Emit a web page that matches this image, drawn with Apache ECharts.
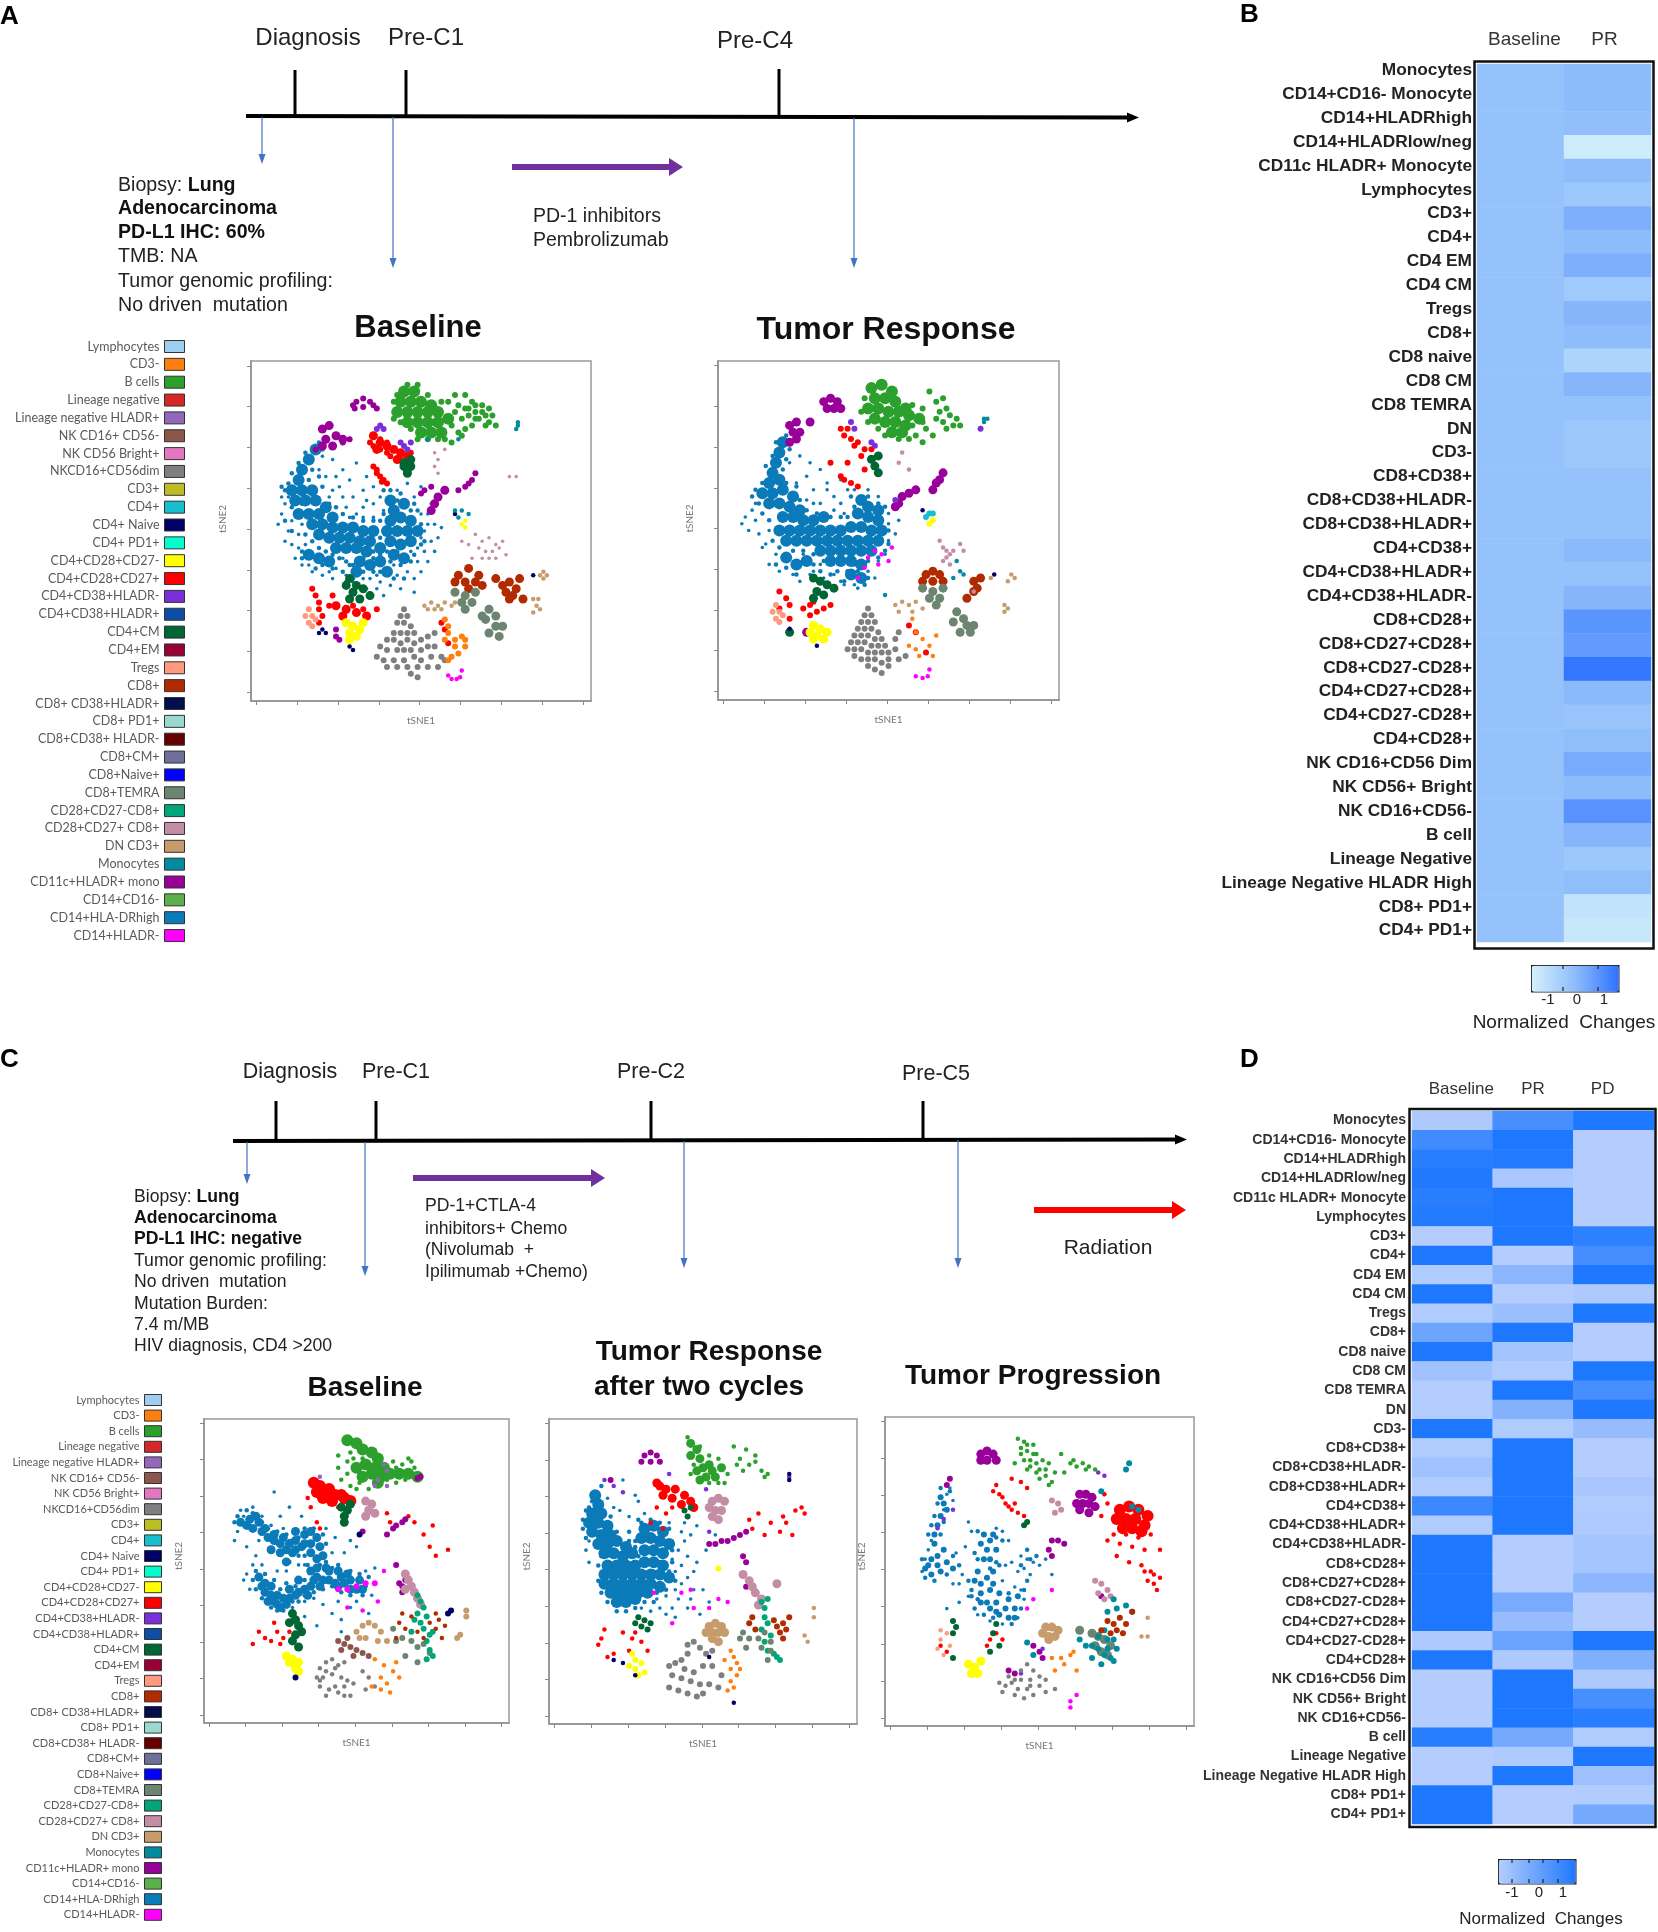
<!DOCTYPE html>
<html>
<head>
<meta charset="utf-8">
<title>tSNE and heatmaps</title>
<style>
  html, body { margin: 0; padding: 0; background: #fff; }
  #main { width: 1658px; height: 1932px; }
</style>
<script src="https://cdn.jsdelivr.net/npm/echarts@6/dist/echarts.min.js"></script>
</head>
<body>
<div id="main"></div>
<script>
// legend populations
const popNames = ['Lymphocytes', 'CD3-', 'B cells', 'Lineage negative', 'Lineage negative HLADR+', 'NK CD16+ CD56-', 'NK CD56 Bright+', 'NKCD16+CD56dim', 'CD3+', 'CD4+', 'CD4+ Naive', 'CD4+ PD1+', 'CD4+CD28+CD27-', 'CD4+CD28+CD27+', 'CD4+CD38+HLADR-', 'CD4+CD38+HLADR+', 'CD4+CM', 'CD4+EM', 'Tregs', 'CD8+', 'CD8+ CD38+HLADR+', 'CD8+ PD1+', 'CD8+CD38+ HLADR-', 'CD8+CM+', 'CD8+Naive+', 'CD8+TEMRA', 'CD28+CD27-CD8+', 'CD28+CD27+ CD8+', 'DN CD3+', 'Monocytes', 'CD11c+HLADR+ mono', 'CD14+CD16-', 'CD14+HLA-DRhigh', 'CD14+HLADR-'];
const popColors = ['#9fcdf0', '#ff7f0e', '#2ca02c', '#d62728', '#9467bd', '#8c564b', '#e377c2', '#7f7f7f', '#bcbd22', '#17becf', '#000066', '#00ffcc', '#ffff00', '#ff0000', '#7b2fd8', '#0d4ea6', '#006633', '#990033', '#ff9980', '#b22a00', '#000e4d', '#99d9d0', '#660000', '#6f6f99', '#0000ff', '#6b8571', '#00a67a', '#c48da6', '#c69c6d', '#008b9e', '#990099', '#5cb04c', '#0a7ab8', '#ff00ff'];

// heatmap rows
const rowsB = ['Monocytes', 'CD14+CD16- Monocyte', 'CD14+HLADRhigh', 'CD14+HLADRlow/neg', 'CD11c HLADR+ Monocyte', 'Lymphocytes', 'CD3+', 'CD4+', 'CD4 EM', 'CD4 CM', 'Tregs', 'CD8+', 'CD8 naive', 'CD8 CM', 'CD8 TEMRA', 'DN', 'CD3-', 'CD8+CD38+', 'CD8+CD38+HLADR-', 'CD8+CD38+HLADR+', 'CD4+CD38+', 'CD4+CD38+HLADR+', 'CD4+CD38+HLADR-', 'CD8+CD28+', 'CD8+CD27+CD28+', 'CD8+CD27-CD28+', 'CD4+CD27+CD28+', 'CD4+CD27-CD28+', 'CD4+CD28+', 'NK CD16+CD56 Dim', 'NK CD56+ Bright', 'NK CD16+CD56-', 'B cell', 'Lineage Negative', 'Lineage Negative HLADR High', 'CD8+ PD1+', 'CD4+ PD1+'];
const colsB = ['Baseline', 'PR'];
const colsD = ['Baseline', 'PR', 'PD'];
const baselineB = [-0.6, -0.6, -0.6, -0.6, -0.6, -0.6, -0.6, -0.6, -0.6, -0.6, -0.6, -0.6, -0.6, -0.6, -0.6, -0.6, -0.6, -0.6, -0.6, -0.6, -0.6, -0.6, -0.6, -0.6, -0.6, -0.6, -0.6, -0.6, -0.6, -0.6, -0.6, -0.6, -0.6, -0.6, -0.6, -0.6, -0.6];
const prB = [-0.3, -0.3, -0.45, -2.5, -0.35, -0.85, 0.1, -0.3, 0.1, -0.95, -0.1, -0.35, -1.4, -0.1, -0.6, -0.8, -0.8, -0.6, -0.6, -0.6, -0.25, -0.6, -0.1, 1.0, 0.8, 2.0, -0.25, -0.65, -0.4, 0.25, -0.3, 1.05, -0.1, -0.85, -0.4, -2.1, -2.3];
const baselineD = [-0.9, 0.55, 0.85, 0.97, 0.85, 0.95, -1, 1, -0.95, 1, -0.95, -0.05, 1, -0.75, -1, -1, 1, -0.95, -0.75, -0.95, 0.6, -0.95, 1, 1, 1, 1, 1, -0.9, 1, -1, -1, -1, 0.85, -1, -1, 1, 1];
const prD = [0.45, 1, 0.95, -0.88, 1, 1, 1, -1, -0.45, -1, -0.65, 1, -0.78, -0.95, 1, -0.35, -0.95, 1, 1, 1, 1, 1, -1, -1, -1, -0.2, -0.6, 0, -0.9, 1, 1, 1, -0.15, -0.92, 1, -1, -1];
const pdD = [1, -1, -1, -1, -1, -1, 0.8, 0.5, 1, -0.9, 1, -1, -1, 1, 0.45, 1, -0.6, -1, -1, -0.85, -0.95, -0.92, -0.8, -0.8, -0.45, -1, -1, 1, -0.3, -0.9, 0.45, 0.85, -0.95, 1, -0.7, -0.97, -0.15];

// tSNE ticks, all plots share them
const xTicks = [1.6, 13.6, 25.6, 37.6, 49.6, 61.6, 73.6, 85.6, 97.6];
const yTicks = [2.6, 14.6, 26.6, 38.6, 50.6, 62.6, 74.6, 86.6, 98.6];

// ---- panel A baseline
const a1BlueCore = [[19,74],[17,71],[15,68],[14,65],[12,62],[15,62],[18,62],[13,59],[16,59],[19,59],[22,57],[14,55],[17,55],[20,55],[24,54],[18,52],[21,52],[24,51],[27,51],[30,51],[33,50],[36,50],[20,49],[23,48],[26,48],[29,48],[32,47],[35,47],[25,45],[28,45],[31,45],[34,44],[38,45],[41,47],[44,46],[47,47],[40,50],[43,50],[46,50],[49,50],[41,53],[44,54],[47,53],[42,56],[45,58],[41,59],[17,43],[20,42],[23,41],[32,41],[35,40],[31,38],[38,41],[42,43],[45,42],[40,38]];
const a1BlueFringe = [[20,76],[21,74],[16,73],[14,70],[18,68],[20,66],[12,67],[11,64],[10,62],[9,63],[17,65],[21,63],[23,58],[25,57],[27,55],[30,54],[33,53],[36,53],[38,53],[39,55],[38,48],[36,44],[38,43],[41,41],[44,40],[47,41],[48,43],[50,46],[51,47],[50,52],[49,56],[47,56],[48,58],[43,59],[39,62],[44,61],[41,62],[15,58],[12,57],[10,53],[12,50],[16,49],[18,47],[20,45],[22,44],[24,43],[26,42],[28,41],[30,40],[15,44],[18,43],[21,40],[24,39],[27,38],[29,40],[33,38],[36,38],[38,38],[33,42],[36,42],[40,44],[43,44],[19,39],[15,42],[30,36],[28,35],[42,36],[45,36]];
const a1Blue = [[24,71],[27,68],[29,65],[25,66],[31,70],[33,62],[36,63],[30,60],[27,60],[24,62],[36,58],[33,57],[38,60],[48,60],[50,63],[46,64],[52,52],[50,48],[53,47],[51,44],[49,41],[46,38],[43,37],[41,34],[38,35],[35,36],[48,36],[50,38],[54,44],[10,58],[9,55],[8,52],[11,50],[10,47],[12,46],[14,49],[15,40],[18,38],[21,37],[25,39],[28,37],[33,36],[37,33],[44,33],[52,55],[55,48],[22,66],[20,68],[34,66],[40,64],[43,62],[21,72],[15,52],[12,53],[27,42],[29,54],[33,54],[36,54],[23,38],[16,46],[52,41],[56,51],[47,44],[39,31],[48,32],[26,63],[28,57],[31,55],[34,59],[39,56],[23,60],[11,60],[9,60],[14,45],[13,42],[17,40],[24,36],[30,35],[34,33],[42,40],[49,45],[51,50],[54,52],[53,58],[50,55],[37,37]];
const a1GreenCore = [[45,91],[48,91],[44,88],[47,88],[50,88],[53,87],[43,85],[46,85],[49,85],[52,85],[55,85],[46,82],[49,82],[52,82],[55,82],[58,83],[50,79],[53,79],[56,79]];
const a1Green = [[60,85],[62,83],[64,84],[66,85],[65,88],[68,87],[67,83],[69,84],[70,82],[72,81],[71,84],[63,80],[61,79],[65,81],[58,88],[60,90],[63,90],[57,77],[59,76],[62,78],[66,87],[69,81],[68,85],[64,86],[56,88],[61,87],[42,88],[43,90],[46,93],[49,93],[52,90],[59,81],[55,77],[52,77],[49,77],[47,80],[44,82],[42,83],[63,86],[66,83],[70,86]];
const a1MonoBig = [[21,80],[23,81],[22,77],[25,78],[21,75],[24,75],[27,77],[57,62],[55,60],[54,58],[53,56]];
const a1Mono = [[30,87],[31,88],[33,89],[35,88],[36,87],[37,86],[30.5,86],[33,86.5],[19,74],[27,76],[29,77],[66,67],[65,65],[64,64],[63,63],[61,62],[53,63],[51,62],[50,61],[25,21],[25,19],[26,18]];
const a1Violet = [[38,81],[39,80],[37,80],[45,75],[46,74],[47,76],[44,76]];
const a1RedBig = [[36,78],[38,76],[37,74],[40,75],[42,74],[44,73],[43,71],[46,72],[25,28],[28,27],[31,26],[34,25],[27,25]];
const a1Red = [[36,78],[38,77],[36,75],[38,74],[40,76],[42,74],[44,73],[41,72],[44,71],[46,71],[47,73],[35,76],[40,73],[36,69],[37,67],[38,66],[39,65],[40,64],[37,68],[38.5,64.5],[18,33],[19,31],[20,29],[20,27],[21,25],[20,23],[23,28],[37,27],[56,23],[57,21],[58,17],[24,31],[30,28],[33,27]];
const a1Cm = [[45,70],[47,71],[46,68],[45,69],[47,69],[46,67],[29,36],[28,34],[31,34],[30,32],[33,33],[35,31],[29,30],[32,30]];
const a1Yellow = [[28,23],[30,22],[32,21],[29,20],[31,19],[29,18],[33,23]];
const a1Yellow2 = [[63,53],[62,52],[63,51]];
const a1Tregs = [[17,27],[16,25],[18,25],[17,23],[18,22],[19,24]];
const a1Navy = [[21,21],[22,20],[20,20],[29,16],[30,15],[60,55],[83,37]];
const a1Teal = [[78.5,82],[78,80],[78.5,81],[60,56],[62,56],[64,55],[61,54],[52,77],[61,77]];
const a1Cd8 = [[61,37],[64,39],[67,37],[60,35],[63,35],[66,35],[68,34],[64,33],[74,34],[76,35],[78,33],[75,32],[77,31],[76,30],[72,36],[80,30],[79,36]];
const a1Temra = [[60,32],[63,31],[66,32],[62,29],[65,29],[63,27],[70,27],[72,25],[69,24],[72,22],[74,22],[70,20],[73,19],[68,25]];
const a1Pink = [[66,49],[68,47],[70,48],[72,46],[67,45],[69,44],[71,44],[73,45],[68,42],[70,42],[72,42],[74,47],[65,42],[75,43],[62,47],[64,46]];
const a1Dn = [[51,28],[53,29],[55,28],[57,29],[59,28],[60,29],[52,27],[54,27],[56,27],[83,30],[84,28],[85,27],[83,26],[84.5,30],[86,38],[86,36],[85,37],[87,37]];
const a1Gray = [[45,27],[44,25],[46,25],[43,23],[45,23],[47,22],[42,20],[44,20],[46,20],[48,20],[40,18],[42,18],[44,17],[46,18],[48,17],[50,18],[52,19],[54,20],[38,16],[40,15],[43,15],[45,15],[47,15],[50,15],[52,16],[54,16],[37,13],[39,12],[42,12],[45,12],[48,13],[50,12],[53,13],[56,13],[40,10],[43,10],[46,10],[49,10],[52,10],[55,10],[47,8],[49,7],[57,12]];
const a1Orange = [[57,24],[58,22],[58,20],[60,18],[62,19],[63,16],[60,16],[61,14],[59,13],[58,12],[63,18],[57,18]];
const a1Magenta = [[62,9],[61.5,7],[60.5,6.5],[59,6.5],[58,7.5]];
const a1PinkTop = [[54,73],[55,71],[54,69],[55,67],[57,74],[76,66],[78,66]];
const a1PanelData = [
  ['CD14+HLA-DRhigh', a1Blue, 'dot'], ['CD14+HLA-DRhigh', a1BlueFringe, 'small'], ['CD14+HLA-DRhigh', a1BlueCore, 'core'], ['B cells', a1Green, 'mid'], ['B cells', a1GreenCore, 'core'],
  ['CD11c+HLADR+ mono', a1Mono, 'mid'], ['CD11c+HLADR+ mono', a1MonoBig, 'blob'], ['CD4+CD28+CD27+', a1Red, 'mid'], ['CD4+CD28+CD27+', a1RedBig, 'blob'], ['CD4+CD38+HLADR-', a1Violet, 'mid'], ['CD4+CM', a1Cm, 'blob'], ['CD4+CD28+CD27-', a1Yellow, 'blob'], ['CD4+CD28+CD27-', a1Yellow2, 'small'],
  ['Tregs', a1Tregs, 'mid'], ['CD4+ Naive', a1Navy, 'small'], ['Monocytes', a1Teal, 'small'], ['CD8+', a1Cd8, 'blob'], ['CD8+TEMRA', a1Temra, 'blob'],
  ['CD28+CD27+ CD8+', a1Pink, 'dot'], ['CD28+CD27+ CD8+', a1PinkTop, 'dot'], ['DN CD3+', a1Dn, 'small'], ['NKCD16+CD56dim', a1Gray, 'mid'], ['CD3-', a1Orange, 'mid'], ['CD14+HLADR-', a1Magenta, 'small']
];

// ---- panel A tumor response
const a2BlueCore = [[19,76],[18,73],[17,70],[16,67],[15,64],[18,65],[13,61],[16,61],[19,62],[22,60],[15,58],[18,58],[21,57],[24,56],[19,54],[22,54],[25,53],[28,53],[31,54],[42,59],[44,57],[47,56],[41,55],[44,54],[47,53],[18,50],[21,50],[24,50],[27,50],[30,50],[33,50],[36,50],[39,51],[42,51],[45,50],[48,50],[20,47],[23,47],[26,47],[29,47],[32,47],[35,47],[38,47],[41,47],[44,47],[47,47],[30,44],[33,44],[36,44],[39,44],[42,44],[45,44],[33,41],[36,41],[39,41],[42,40],[20,42],[23,40],[26,41],[39,37],[42,36]];
const a2BlueFringe = [[20,78],[17,76],[21,74],[16,72],[20,71],[14,69],[19,68],[13,64],[11,62],[10,60],[20,64],[23,63],[24,59],[26,56],[29,55],[33,54],[36,54],[38,54],[40,57],[39,60],[44,60],[47,58],[49,57],[50,50],[50,46],[49,44],[47,42],[44,41],[41,38],[38,38],[35,38],[31,41],[28,43],[25,44],[22,44],[18,45],[16,47],[15,53],[13,55],[12,58],[17,40],[20,39],[23,37],[37,35],[40,40],[44,36],[30,38],[28,40],[33,37],[43,34]];
const a2Blue = [[24,72],[27,70],[30,68],[26,66],[32,64],[28,62],[34,60],[30,58],[36,58],[38,62],[10,56],[8,54],[7,52],[9,50],[11,53],[12,49],[14,46],[17,43],[15,40],[18,38],[22,37],[28,38],[30,40],[34,37],[37,34],[44,38],[47,41],[49,43],[50,47],[50,52],[50,55],[37,55],[34,56],[40,62],[44,62],[47,60],[33,70],[21,70],[23,64],[26,59],[13,45],[25,43],[27,37],[46,36],[41,33],[52,49],[53,53],[11,58],[15,50],[28,58],[32,62],[36,65],[24,35],[31,36],[36,35],[40,34]];
const a2GreenCore = [[45,92],[48,93],[51,91],[46,89],[49,89],[52,88],[55,86],[44,86],[47,86],[50,85],[53,85],[56,84],[59,83],[46,83],[49,82],[52,82],[55,81],[51,79],[54,79]];
const a2Green = [[64,88],[66,89],[65,85],[67,86],[68,84],[70,83],[71,81],[69,81],[66,82],[64,83],[67,80],[60,86],[62,91],[61,80],[58,78],[56,77],[60,76],[63,78],[43,89],[42,85],[44,82],[47,80],[49,78],[53,77],[57,81],[60,82],[57,87]];
const a2Mono = [[31,88],[33,89],[35,88],[36,86],[32,86],[34,86],[21,81],[23,82],[22,79],[24,79],[21,76],[23,77],[58,62],[56,61],[54,60],[53,58],[52,57],[66,67],[65,65],[64,64],[63,62],[26,20],[27,82]];
const a2Violet = [[39,82],[40,80],[45,76],[46,75],[77,80],[52,59]];
const a2Red = [[36,80],[38,80],[37,78],[39,77],[41,76],[43,74],[45,74],[40,75],[42,72],[36,66],[37,65],[39,64],[41,63],[18,32],[20,30],[21,28],[18,27],[21,24],[25,27],[27,28],[29,26],[31,27],[33,28],[28,29],[27,25],[56,22],[58,20],[61,14],[33,70],[38,70],[43,68]];
const a2Cm = [[45,71],[47,72],[46,69],[47,67],[28,36],[30,35],[32,34],[29,32],[31,31],[34,33],[28,30],[21,20]];
const a2Yellow = [[28,22],[30,21],[32,20],[27,20],[29,19],[31,18],[28,18]];
const a2Yellow2 = [[62,52],[63,53]];
const a2Tregs = [[17,28],[16,26],[18,26],[17,24],[18,23],[19,25]];
const a2Navy = [[21,21],[29,16],[60,56],[81,37]];
const a2Teal = [[78,83],[78,82],[79,83],[70,41],[71,38],[69,36],[72,37],[49,31]];
const a2Cyan = [[62,55],[61,54],[63,55]];
const a2Cd8 = [[61,37],[63,38],[65,37],[60,35],[63,35],[66,35],[75,35],[76,33],[75,32],[77,36],[73,30]];
const a2Temra = [[60,33],[63,32],[66,33],[62,30],[65,30],[64,28],[70,26],[72,24],[69,23],[73,22],[75,22],[71,20],[74,20]];
const a2Pink = [[65,47],[66,45],[67,44],[68,43],[69,44],[67,42],[68,40],[66,41],[71,46],[72,44],[54,73],[53,70],[56,68],[75,32]];
const a2Dn = [[52,28],[54,29],[56,28],[58,29],[60,27],[53,26],[57,26],[84,28],[85,27],[84,26],[86,37],[87,36],[85,35],[80,36]];
const a2Gray = [[44,27],[43,25],[45,25],[42,23],[44,23],[46,23],[41,21],[43,21],[45,21],[47,20],[40,19],[42,19],[44,19],[46,18],[48,18],[39,17],[41,17],[43,17],[45,16],[47,16],[49,16],[38,15],[40,15],[42,15],[44,14],[46,14],[48,14],[50,14],[52,15],[40,13],[42,12],[44,12],[46,12],[48,11],[50,12],[53,12],[55,13],[44,10],[46,9],[48,8],[50,10],[52,18],[53,20]];
const a2Orange = [[57,24],[58,20],[60,18],[62,16],[59,13],[64,19],[63,13],[58,15],[56,16]];
const a2Magenta = [[62,9],[61.5,7],[60,6.5],[58,7],[44,42],[46,44],[48,43],[50,41],[47,40],[51,45],[43,39],[41,36]];
const a2PanelData = [
  ['CD14+HLA-DRhigh', a2Blue, 'dot'], ['CD14+HLA-DRhigh', a2BlueFringe, 'small'], ['CD14+HLA-DRhigh', a2BlueCore, 'core'], ['B cells', a2Green, 'mid'], ['B cells', a2GreenCore, 'core'],
  ['CD11c+HLADR+ mono', a2Mono, 'blob'], ['CD4+CD28+CD27+', a2Red, 'mid'], ['CD4+CD38+HLADR-', a2Violet, 'mid'], ['CD4+CM', a2Cm, 'blob'], ['CD4+CD28+CD27-', a2Yellow, 'blob'], ['CD4+CD28+CD27-', a2Yellow2, 'mid'],
  ['Tregs', a2Tregs, 'mid'], ['CD4+ Naive', a2Navy, 'small'], ['Monocytes', a2Teal, 'small'], ['CD4+', a2Cyan, 'mid'], ['CD8+', a2Cd8, 'blob'], ['CD8+TEMRA', a2Temra, 'blob'],
  ['CD28+CD27+ CD8+', a2Pink, 'small'], ['DN CD3+', a2Dn, 'small'], ['NKCD16+CD56dim', a2Gray, 'mid'], ['CD3-', a2Orange, 'small'], ['CD14+HLADR-', a2Magenta, 'small']
];

// ---- panel C baseline
const c1BlueCore = [[14,65],[16,64],[17,68],[19,63],[21,61],[23,60],[25,59],[27,57],[25,56],[29,56],[22,57],[30,60],[33,62],[35,63],[37,61],[38,58],[32,58],[39,55],[37,54],[40,51],[37,48],[41,47],[45,48],[48,47],[51,47],[44,45],[50,44],[18,48],[20,46],[22,45],[20,43],[24,42],[23,40],[25,38],[26,41],[28,44],[30,42],[33,44],[35,45],[31,47],[35,50],[41,50],[44,50],[38,45],[12,66],[15,67],[18,66],[20,64],[23,62],[26,61],[28,59],[30,57],[27,53],[30,63],[33,59],[35,59],[35,56],[37,51],[39,47],[43,46],[46,46],[48,44],[47,49],[52,44],[19,45],[22,42],[21,40],[24,39],[27,39],[28,41],[31,43],[34,42],[36,47]];
const c1BlueFringe = [[10,66],[11,68],[14,70],[16,69],[19,66],[21,64],[24,63],[27,62],[29,60],[31,61],[33,64],[36,64],[39,62],[40,59],[38,52],[40,53],[42,51],[44,52],[48,50],[51,49],[54,48],[53,45],[52,42],[48,42],[45,43],[42,45],[39,44],[36,43],[33,42],[31,40],[29,40],[26,37],[24,37],[22,38],[19,41],[17,44],[16,47],[17,50],[20,49],[23,47],[25,44],[27,46],[30,45],[33,47],[34,52],[31,55],[28,53],[33,55]];
const c1Blue = [[11,63],[10,60],[13,68],[12,70],[16,71],[19,68],[22,65],[26,64],[18,60],[14,58],[25,68],[19,52],[16,52],[14,49],[13,47],[15,44],[28,60],[27,50],[24,50],[31,52],[33,52],[29,38],[33,40],[36,41],[39,39],[42,36],[45,34],[48,38],[44,40],[50,40],[55,42],[53,50],[56,51],[42,56],[46,56],[48,60],[43,61],[40,64],[50,58],[33,35],[37,32],[17,55],[32,68],[28,71],[23,76],[54,36],[45,30]];
const c1GreenCore = [[47,93],[50,92],[52,90],[55,89],[57,87],[50,84],[53,85],[56,84],[59,84],[52,81],[55,82],[58,81],[61,82],[57,79],[64,82],[67,82],[70,81]];
const c1Green = [[44,88],[44,84],[47,86],[47,82],[45,80],[48,78],[50,77],[62,86],[65,85],[67,87],[68,86],[48,89],[51,79],[54,77],[63,79],[66,80],[49,87],[52,87],[60,80],[63,84],[69,84]];
const c1LinNeg = [[59,85],[60,83],[57,80],[60,78],[56,78],[38,81],[46,75],[47,73]];
const c1Mono = [[60,62],[62,64],[63,65],[65,66],[66,67],[71,81],[70,80.5],[63,52],[52,63],[65,45],[64,46],[65,43],[66,47]];
const c1Red = [[36,79],[38,78],[41,77],[37,76],[40,76],[43,75],[45,75],[46,74],[48,73],[39,74],[42,73]];
const c1RedSparse = [[18,30],[20,28],[22,27],[24,30],[16,26],[23,33],[26,28],[25,26],[28,30],[29,27],[38,64],[37,66],[61,66],[67,68],[69,66],[72,62],[74,58],[60,69],[80,57],[76,55],[75,65],[34,74],[35,71],[44,71]];
const c1Cm = [[45,71],[47,70],[46,68],[46,66],[48,72],[29,36],[30,34],[31,32],[28,33],[30,29],[29,27],[31,25],[32,30]];
const c1Yellow = [[27,22],[29,21],[31,20],[30,18],[31,17],[28,20]];
const c1Pink = [[66,49],[67,47],[68,45],[69,43],[70,41],[66,44],[71,39],[53,73],[55,72],[54,70],[53,68],[56,69]];
const c1Teal = [[70,42],[71,40],[72,38],[70,36],[69,34],[71,33],[73,35],[75,30],[74,24],[75,22],[73,21],[72,31],[73,27],[74,29],[68,30]];
const c1Cd8 = [[64,33],[66,31],[70,30],[72,28],[74,33],[76,31],[77,34],[76,36],[79,32],[68,35],[63,28],[65,36],[78,28]];
const c1Temra = [[62,31],[63,27],[65,28],[68,27],[70,25],[72,26],[70,20],[74,23],[66,22]];
const c1Navy = [[81,37],[80,36],[30,15],[51,62]];
const c1Dn = [[50,30],[52,32],[54,33],[56,32],[58,30],[60,27],[51,28],[53,28],[57,27],[86,37],[86,35],[84,29],[83,28]];
const c1Brown = [[44,27],[46,26],[48,25],[50,24],[52,23],[54,22],[47,28],[49,22],[45,24]];
const c1Gray = [[38,18],[40,20],[42,21],[44,19],[46,20],[37,15],[39,15],[42,16],[45,15],[47,14],[38,12],[41,11],[44,10],[46,9],[48,9],[49,13],[40,9],[40,17],[43,18],[38,14],[43,12],[46,12],[52,17],[54,15],[56,12],[53,11]];
const c1Orange = [[56,21],[59,19],[62,17],[63,20],[58,15],[60,13],[55,12],[58,11],[64,15],[61,10]];
const c1Magenta = [[44,44],[47,44],[50,45],[53,46],[56,46]];
const c1MagentaSparse = [[57,40],[47,38],[52,37],[59,50]];
const c1PanelData = [
  ['CD14+HLA-DRhigh', c1Blue, 'dot'], ['CD14+HLA-DRhigh', c1BlueFringe, 'small'], ['CD14+HLA-DRhigh', c1BlueCore, 'blob'], ['B cells', c1Green, 'small'], ['B cells', c1GreenCore, 'core'], ['Lineage negative HLADR+', c1LinNeg, 'small'],
  ['CD4+CD28+CD27+', c1Red, 'core'], ['CD4+CD28+CD27+', c1RedSparse, 'small'], ['CD11c+HLADR+ mono', c1Mono, 'mid'], ['CD4+CM', c1Cm, 'blob'], ['CD4+CD28+CD27-', c1Yellow, 'blob'],
  ['CD28+CD27+ CD8+', c1Pink, 'blob'], ['CD8+TEMRA', c1Temra, 'mid'], ['CD28+CD27-CD8+', c1Teal, 'mid'], ['CD8+', c1Cd8, 'small'], ['CD4+ Naive', c1Navy, 'mid'], ['DN CD3+', c1Dn, 'mid'],
  ['NK CD16+ CD56-', c1Brown, 'mid'], ['NKCD16+CD56dim', c1Gray, 'small'], ['CD3-', c1Orange, 'small'], ['CD14+HLADR-', c1Magenta, 'mid'], ['CD14+HLADR-', c1MagentaSparse, 'small']
];

// ---- panel C tumor response after two cycles
const c2BlueCore = [[15,75],[16,72],[14,69],[17,69],[13,66],[16,66],[19,65],[14,63],[17,62],[20,62],[16,59],[19,59],[22,60],[25,58],[18,56],[21,56],[24,55],[27,56],[31,64],[34,65],[37,63],[30,61],[33,61],[36,60],[39,59],[31,57],[34,57],[37,56],[31,53],[34,53],[37,52],[19,52],[22,52],[25,52],[28,52],[18,49],[21,49],[24,49],[27,49],[30,49],[33,49],[36,49],[39,48],[18,46],[21,46],[24,46],[27,46],[30,46],[33,46],[36,45],[20,43],[23,43],[26,43],[29,43],[32,43],[22,40],[25,40],[28,41]];
const c2BlueFringe = [[17,78],[14,73],[12,70],[11,67],[13,71],[11,64],[12,61],[20,68],[22,63],[26,60],[28,58],[29,55],[30,66],[33,67],[36,66],[39,64],[40,57],[40,53],[39,50],[41,47],[38,44],[35,43],[34,40],[31,40],[28,38],[25,37],[22,37],[19,40],[17,43],[16,47],[16,52],[17,55],[28,60],[26,63],[29,67],[25,46],[30,44],[34,50],[36,53]];
const c2Blue = [[19,74],[21,71],[23,70],[26,68],[29,73],[31,69],[13,60],[12,57],[13,53],[40,60],[43,63],[46,62],[42,57],[45,55],[43,52],[48,53],[41,50],[45,48],[43,46],[41,44],[38,42],[35,41],[36,38],[40,38],[33,37],[30,38],[41,35],[46,41],[47,44],[50,44],[52,40],[49,36],[54,62],[48,65],[44,66],[39,66],[28,75],[24,80],[20,80],[51,57],[40,54],[44,60],[47,50],[38,36],[45,38],[42,41]];
const c2GreenCore = [[46,92],[48,90],[46,88],[49,87],[52,85],[50,84],[53,83],[48,83],[51,81],[54,81],[56,84],[49,80]];
const c2Green = [[45,94],[49,91],[52,88],[55,87],[61,85],[63,83],[65,85],[67,86],[69,83],[70,81],[62,87],[60,91],[64,90],[67,88],[71,82],[57,79],[47,85],[46,82],[52,79],[55,79],[58,82]];
const c2Mono = [[30,86],[31,88],[33,89],[35,88],[36,86],[33,86],[56,60],[58,60],[60,61],[62,62],[64,63],[54,59],[52,59],[63,55],[64,53],[20,80],[65,47],[64,45]];
const c2Violet = [[21,78],[18,80],[24,76],[39,82],[52,63],[78,81],[51,77]];
const c2Red = [[35,79],[36,78],[38,77],[41,77],[44,75],[46,73],[37,75],[40,74],[43,72],[47,71]];
const c2RedSparse = [[35,71],[38,69],[33,66],[37,64],[40,71],[24,30],[27,28],[30,27],[32,24],[26,24],[28,30],[17,28],[16,26],[18,31],[19,22],[21,23],[65,67],[68,69],[72,66],[76,68],[80,70],[82,71],[70,62],[75,63],[66,64],[83,69],[77,66],[79,62]];
const c2Cm = [[29,35],[31,34],[33,33],[28,33],[30,32],[32,31],[44,70],[45,68],[46,71]];
const c2Yellow = [[27,23],[28,21],[30,20],[28,18],[31,17],[26,19],[29,16],[55,51]];
const c2Pink = [[53,73],[55,74],[57,73],[52,71],[54,70],[56,70],[53,68],[55,67],[63,49],[65,47],[66,45],[67,43],[69,41],[68,39],[74,46]];
const c2Teal = [[69,40],[70,38],[71,41],[70,35],[71,33],[69,31],[72,29],[74,22],[75,21],[73,23],[70,27],[71,24]];
const c2Cd8 = [[66,35],[65,33],[74,32],[76,33],[75,30],[77,31],[73,34],[76,28],[78,35],[67,31]];
const c2Temra = [[63,30],[62,28],[65,28],[68,28],[70,30],[72,27],[69,25],[72,24],[71,21],[64,25]];
const c2Dn = [[52,32],[54,33],[56,32],[51,30],[53,30],[55,30],[57,30],[53,28],[55,27]];
const c2DnSparse = [[86,35],[86,38],[83,29],[84,27]];
const c2Gray = [[45,26],[47,27],[49,25],[51,23],[53,24],[45,23],[43,21],[41,20],[39,19],[44,18],[47,17],[50,19],[53,19],[56,16],[40,16],[43,15],[46,14],[49,13],[52,13],[55,12],[39,12],[42,11],[45,10],[48,9],[50,10]];
const c2Orange = [[59,24],[60,22],[61,20],[59,18],[62,18],[61,16],[59,14],[60,12],[58,11],[57,21]];
const c2Navy = [[28,16],[78,82],[78,80],[52,22],[60,7],[24,20],[21,21]];
const c2Magenta = [[34,43],[43,43],[46,44],[47,38],[40,33],[52,38],[55,41],[58,40]];
const c2PanelData = [
  ['CD14+HLA-DRhigh', c2Blue, 'dot'], ['CD14+HLA-DRhigh', c2BlueFringe, 'small'], ['CD14+HLA-DRhigh', c2BlueCore, 'core'], ['B cells', c2Green, 'small'], ['B cells', c2GreenCore, 'blob'],
  ['CD11c+HLADR+ mono', c2Mono, 'mid'], ['CD4+CD38+HLADR-', c2Violet, 'small'], ['CD4+CD28+CD27+', c2Red, 'blob'], ['CD4+CD28+CD27+', c2RedSparse, 'small'], ['CD4+CM', c2Cm, 'mid'], ['CD4+CD28+CD27-', c2Yellow, 'mid'],
  ['CD28+CD27+ CD8+', c2Pink, 'blob'], ['CD28+CD27-CD8+', c2Teal, 'mid'], ['CD8+', c2Cd8, 'mid'], ['CD8+TEMRA', c2Temra, 'mid'], ['DN CD3+', c2Dn, 'blob'], ['DN CD3+', c2DnSparse, 'small'],
  ['NKCD16+CD56dim', c2Gray, 'mid'], ['CD3-', c2Orange, 'small'], ['CD4+ Naive', c2Navy, 'small'], ['CD14+HLADR-', c2Magenta, 'small']
];

// ---- panel C tumor progression
const c3BlueCore = [[31,43],[34,44],[37,43],[40,41],[33,40],[36,40],[39,38],[42,38],[37,36],[40,35],[32,62],[34,60],[33,57],[36,57],[32,54],[30,50],[33,48],[29,47],[35,50],[14,52],[17,55],[20,53],[22,51],[15,49],[18,50],[18,68],[17,65],[19,72],[16,62],[43,42],[34,38],[31,40],[36,37],[42,35],[19,57],[15,54],[13,51],[17,52],[35,62],[31,59],[34,54],[31,46],[35,46],[18,74],[20,70],[16,59]];
const c3BlueFringe = [[21,76],[18,77],[17,72],[16,68],[19,66],[15,65],[18,62],[14,62],[13,48],[12,54],[16,47],[20,49],[22,55],[24,52],[30,63],[36,61],[38,60],[29,56],[30,54],[36,53],[37,52],[27,47],[28,44],[34,51],[28,42],[30,41],[29,38],[32,36],[35,35],[41,33],[44,38],[45,44],[40,43],[46,47],[47,54],[49,55],[46,57],[44,52]];
const c3Blue = [[21,77],[20,75],[22,73],[19,70],[15,60],[14,57],[13,54],[12,50],[23,56],[25,49],[27,42],[24,40],[20,38],[44,55],[46,54],[48,53],[50,52],[45,51],[43,50],[47,49],[40,60],[38,63],[36,64],[42,45],[44,44],[45,41],[43,35],[38,33],[34,34],[30,36],[28,63],[26,58],[24,46],[22,46],[39,52],[41,53],[38,47],[27,66],[52,54],[54,49]];
const c3Green = [[43,93],[45,92],[44,90],[46,89],[48,88],[45,86],[47,86],[49,85],[50,83],[52,83],[47,84],[50,80],[52,81],[54,79],[55,82],[42,85],[57,88],[60,85],[62,84],[64,85],[66,84],[68,83],[58,82],[44,88],[49,88],[46,91],[48,91],[51,86],[53,85],[49,82],[53,78],[46,83],[61,86],[65,83]];
const c3MonoBig = [[31,88],[33,89],[35,88],[33,86],[36,86],[31,86],[63,75],[65,75],[67,74],[62,72],[64,72],[66,72],[68,71],[63,70],[66,69]];
const c3Mono = [[21,80],[20,78],[54,60],[56,60],[58,59],[53,57],[54,55],[48,26],[50,24],[51,22],[40,18],[42,17],[70,42]];
const c3Violet = [[71,81],[69,82],[22,70],[19,67],[17,64],[51,25],[44,17]];
const c3RedBig = [[76,70],[79,71],[82,70],[85,68],[75,67],[78,67],[81,67],[84,65],[77,64],[80,64],[83,63]];
const c3Red = [[35,76],[37,75],[39,72],[41,70],[43,69],[45,68],[41,80],[44,79],[46,77],[74,62],[78,62],[82,61],[86,62],[72,60],[76,59],[80,58],[84,57],[89,57],[75,55],[79,53],[83,52],[86,50],[89,48],[87,46],[88,44],[85,47],[72,72],[70,68],[71,75],[36,30],[38,28],[33,26],[18,26],[20,24],[34,28],[36,78],[38,74],[40,71],[42,72],[87,49],[84,50]];
const c3Cm = [[46,66],[45,65],[22,34],[23,32],[22,30],[36,33],[35,30],[37,26],[34,24],[22,22]];
const c3Yellow = [[27,20],[29,19],[30,17],[31,21],[28,17]];
const c3Pink = [[68,47],[70,46],[72,44],[71,41],[69,43],[73,42],[54,73],[56,72],[55,69],[57,70]];
const c3Teal = [[79,85],[78,83],[75,38],[78,39],[80,37],[72,37],[74,41],[70,76],[82,70],[80,71],[46,27],[48,23],[63,28],[65,26],[67,22],[70,20],[73,22],[75,25],[72,28],[69,25],[74,21],[71,23],[69,29],[72,25],[67,26],[71,31],[74,28]];
const c3Cd8 = [[72,34],[74,33],[76,35],[78,33],[75,31],[77,30],[73,30],[70,31],[80,37]];
const c3Temra = [[67,30],[69,29],[71,28],[73,26],[68,26],[70,24],[72,23],[63,31]];
const c3Dn = [[52,32],[54,32],[56,31],[51,30],[53,29],[55,29],[53,28]];
const c3DnSparse = [[85,35],[85,29],[83,29]];
const c3Gray = [[46,20],[48,18],[50,16],[52,15],[44,15],[41,14],[43,12],[46,12],[39,13],[38,11],[48,10],[52,11],[47,15],[55,12],[42,10],[40,16],[44,18],[47,13],[45,9],[50,13],[42,15],[37,14]];
const c3Orange = [[57,22],[60,23],[58,20],[62,18],[55,18],[61,24],[54,22]];
const c3Salmon = [[18,28],[17,25],[19,23],[20,30],[18,31],[21,26]];
const c3Magenta = [[60,8],[62,10],[60,6],[54,44],[48,41],[46,38]];
const c3PanelData = [
  ['CD14+HLA-DRhigh', c3Blue, 'dot'], ['CD14+HLA-DRhigh', c3BlueFringe, 'small'], ['CD14+HLA-DRhigh', c3BlueCore, 'mid'], ['B cells', c3Green, 'small'], ['CD4+CD28+CD27+', c3RedBig, 'core'], ['CD4+CD28+CD27+', c3Red, 'small'],
  ['CD11c+HLADR+ mono', c3MonoBig, 'blob'], ['CD11c+HLADR+ mono', c3Mono, 'mid'], ['CD4+CD38+HLADR-', c3Violet, 'small'], ['CD4+CM', c3Cm, 'mid'], ['CD4+CD28+CD27-', c3Yellow, 'blob'],
  ['CD28+CD27+ CD8+', c3Pink, 'mid'], ['CD8+TEMRA', c3Temra, 'blob'], ['Monocytes', c3Teal, 'mid'], ['CD8+', c3Cd8, 'mid'], ['DN CD3+', c3Dn, 'blob'], ['DN CD3+', c3DnSparse, 'small'],
  ['NKCD16+CD56dim', c3Gray, 'small'], ['CD3-', c3Orange, 'small'], ['Tregs', c3Salmon, 'small'], ['CD14+HLADR-', c3Magenta, 'small']
];

const sizes = { core: 12, blob: 9, mid: 6, small: 4.5, dot: 3.6 };
const frames = [
  { left: 251, top: 361, width: 340, height: 340, points: a1PanelData, nameGapY: 23, namePad: 24 },
  { left: 718, top: 361, width: 341, height: 339, points: a2PanelData, nameGapY: 23, namePad: 24 },
  { left: 204, top: 1419, width: 305, height: 304, points: c1PanelData, nameGapY: 20, namePad: 30 },
  { left: 549, top: 1419, width: 308, height: 305, points: c2PanelData, nameGapY: 17, namePad: 30 },
  { left: 885, top: 1417, width: 309, height: 309, points: c3PanelData, nameGapY: 18, namePad: 30 }
];

const grids = [];
const xAxes = [];
const yAxes = [];
const series = [];

frames.forEach(function (f, i) {
  grids.push({ left: f.left, top: f.top, width: f.width, height: f.height, show: true, borderColor: '#999', borderWidth: 1.5 });
  xAxes.push({
    gridIndex: i, type: 'value', min: 0, max: 100, name: 'tSNE1', nameLocation: 'middle', nameGap: 15,
    nameTextStyle: { fontFamily: 'Lato', fontSize: 10, color: '#777' },
    axisLine: { onZero: false, lineStyle: { color: '#999', width: 2 } },
    axisTick: { customValues: xTicks, length: 4, lineStyle: { color: '#888' } },
    axisLabel: { show: false }, splitLine: { show: false }
  });
  yAxes.push({
    gridIndex: i, type: 'value', min: 0, max: 100, name: 'tSNE2', nameLocation: 'middle', nameGap: f.nameGapY,
    nameTextStyle: { fontFamily: 'Lato', fontSize: 10, color: '#777', padding: [0, 0, 0, f.namePad] },
    axisLine: { onZero: false, lineStyle: { color: '#999', width: 2 } },
    axisTick: { customValues: yTicks, length: 4, lineStyle: { color: '#888' } },
    axisLabel: { show: false }, splitLine: { show: false }
  });
  f.points.forEach(function (p) {
    series.push({
      name: p[0], type: 'scatter', xAxisIndex: i, yAxisIndex: i, data: p[1], symbolSize: sizes[p[2]], silent: true,
      itemStyle: { color: popColors[popNames.indexOf(p[0])], opacity: 1 }
    });
  });
});

// empty series so every legend row has its colour
popNames.forEach(function (n, i) {
  series.unshift({ name: n, type: 'scatter', xAxisIndex: 0, yAxisIndex: 0, data: [], itemStyle: { color: popColors[i], opacity: 1 } });
});

// heatmaps
function addHeatmap(cols, columns, box, labelFont, labelColor, headerPad) {
  const idx = grids.length;
  const labelStyle = { interval: 0, margin: box.labelGap, fontFamily: 'Liberation Sans', fontWeight: 'bold', fontSize: labelFont, color: labelColor };
  grids.push({ left: box.left, top: box.top, width: box.width, height: box.height });
  xAxes.push({
    gridIndex: idx, type: 'category', data: cols, position: 'top',
    axisLine: { show: false }, axisTick: { show: false },
    axisLabel: {
      margin: box.headerGap, interval: 0,
      formatter: function (v) { return '{' + v + '|' + v + '}'; },
      rich: headerPad
    }
  });
  yAxes.push({
    gridIndex: idx, type: 'category', data: rowsB, inverse: true,
    axisLine: { show: false }, axisTick: { show: false },
    axisLabel: box.labelBox ? { show: false } : labelStyle
  });
  const cells = [];
  columns.forEach(function (vals, c) {
    vals.forEach(function (v, r) { cells.push([c, r, v]); });
  });
  series.push({ type: 'heatmap', xAxisIndex: idx, yAxisIndex: idx, data: cells, silent: true, progressive: 0 });
  const seriesIdx = series.length - 1;
  // the row labels in panel B run slightly taller than the cells
  if (box.labelBox) {
    const labelIdx = grids.length;
    grids.push({ left: box.left, top: box.labelBox.top, width: box.width, height: box.labelBox.height });
    xAxes.push({ gridIndex: labelIdx, type: 'category', data: cols, show: false });
    yAxes.push({
      gridIndex: labelIdx, type: 'category', data: rowsB, inverse: true,
      axisLine: { show: false }, axisTick: { show: false }, axisLabel: labelStyle
    });
  }
  return seriesIdx;
}

function header(size, pad) {
  return { fontFamily: 'Liberation Sans', fontSize: size, color: '#333', padding: pad };
}
const heatB = addHeatmap(colsB, [baselineB, prB], { left: 1477, top: 64, width: 174, height: 878, headerGap: 15, labelGap: 5, labelBox: { top: 58.3, height: 884.3 } }, 17.3, '#222',
  { Baseline: header(19, [0, 0, 0, 8]), PR: header(19, [0, 6, 0, 0]) });
const heatD = addHeatmap(colsD, [baselineD, prD, pdD], { left: 1412, top: 1111, width: 242, height: 713, headerGap: 13, labelGap: 6 }, 14, '#333',
  { Baseline: header(17, [0, 0, 0, 18]), PR: header(17, [0, 0, 0, 0]), PD: header(17, [0, 22, 0, 0]) });

// timeline and annotation drawing
const graphics = [];
function seg(x1, y1, x2, y2, color, w) {
  graphics.push({ type: 'line', shape: { x1: x1, y1: y1, x2: x2, y2: y2 }, style: { stroke: color, lineWidth: w } });
}
function headRight(x, y, hw, hl, color) {
  graphics.push({ type: 'polygon', shape: { points: [[x, y], [x - hl, y - hw], [x - hl, y + hw]] }, style: { fill: color } });
}
function blueArrow(x, y1, y2) {
  seg(x, y1, x, y2 - 6, '#4472c4', 1.2);
  graphics.push({ type: 'polygon', shape: { points: [[x, y2], [x - 3.5, y2 - 10], [x + 3.5, y2 - 10]] }, style: { fill: '#4472c4' } });
}
function fatArrow(x1, x2, y, color) {
  seg(x1, y, x2 - 12, y, color, 6);
  headRight(x2, y, 9, 14, color);
}
function txt(text, x, y, size, opt) {
  opt = opt || {};
  graphics.push({
    type: 'text', x: x, y: y,
    style: Object.assign({ text: text, fontFamily: 'Liberation Sans', fontSize: size, fill: '#222', textAlign: opt.align || 'center', textVerticalAlign: 'middle', fontWeight: opt.bold ? 'bold' : 'normal' }, opt.style || {})
  });
}

// panel letters
txt('A', 0, 17, 26, { align: 'left', bold: true, style: { fill: '#000' } });
txt('B', 1240, 15, 26, { align: 'left', bold: true, style: { fill: '#000' } });
txt('C', 0, 1060, 26, { align: 'left', bold: true, style: { fill: '#000' } });
txt('D', 1240, 1060, 26, { align: 'left', bold: true, style: { fill: '#000' } });

// panel A timeline
seg(246, 116, 1131, 117.5, '#000', 4);
headRight(1139, 117.5, 5, 12, '#000');
[[295, 70], [406, 70], [779, 69]].forEach(function (t) { seg(t[0], t[1], t[0], 116, '#000', 3); });
txt('Diagnosis', 308, 38, 24);
txt('Pre-C1', 426, 38, 24);
txt('Pre-C4', 755, 41, 24);
blueArrow(262, 117, 164);
blueArrow(393, 117, 268);
blueArrow(854, 118, 268);
fatArrow(512, 683, 167, '#7030a0');
txt('PD-1 inhibitors', 533, 217, 19.5, { align: 'left' });
txt('Pembrolizumab', 533, 241, 19.5, { align: 'left' });
const bioA = [['Biopsy: ', 'Lung'], ['', 'Adenocarcinoma'], ['', 'PD-L1 IHC: 60%'], ['TMB: NA', ''], ['Tumor genomic profiling:', ''], ['No driven  mutation', '']];
bioA.forEach(function (l, i) {
  graphics.push({
    type: 'text', x: 118, y: [186, 209, 233, 257, 282, 306][i],
    style: { text: '{n|' + l[0] + '}{b|' + l[1] + '}', textVerticalAlign: 'middle', textAlign: 'left', rich: { n: { fontFamily: 'Liberation Sans', fontSize: 19.6, fill: '#222', fontWeight: 'normal' }, b: { fontFamily: 'Liberation Sans', fontSize: 19.6, fill: '#111', fontWeight: 'bold' } } }
  });
});

// panel C timeline
seg(233, 1141, 1179, 1139.5, '#000', 4);
headRight(1187, 1139.5, 5, 12, '#000');
[276, 376, 651, 923].forEach(function (x) { seg(x, 1101, x, 1140, '#000', 3); });
txt('Diagnosis', 290, 1072, 21.5);
txt('Pre-C1', 396, 1072, 21.5);
txt('Pre-C2', 651, 1072, 21.5);
txt('Pre-C5', 936, 1074, 21.5);
blueArrow(247, 1142, 1184);
blueArrow(365, 1142, 1276);
blueArrow(684, 1141, 1268);
blueArrow(958, 1140, 1268);
fatArrow(413, 605, 1178, '#7030a0');
fatArrow(1034, 1186, 1210, '#ff0000');
txt('Radiation', 1108, 1248, 21);
const drugLines = ['PD-1+CTLA-4', 'inhibitors+ Chemo', '(Nivolumab  +', 'Ipilimumab +Chemo)'];
drugLines.forEach(function (l, i) { txt(l, 425, [1206, 1229, 1250, 1272][i], 17.6, { align: 'left' }); });
const bioC = [['Biopsy: ', 'Lung'], ['', 'Adenocarcinoma'], ['', 'PD-L1 IHC: negative'], ['Tumor genomic profiling:', ''], ['No driven  mutation', ''], ['Mutation Burden:', ''], ['7.4 m/MB', ''], ['HIV diagnosis, CD4 >200', '']];
bioC.forEach(function (l, i) {
  graphics.push({
    type: 'text', x: 134, y: [1197, 1218, 1239, 1261, 1282, 1304, 1325, 1346][i],
    style: { text: '{n|' + l[0] + '}{b|' + l[1] + '}', textVerticalAlign: 'middle', textAlign: 'left', rich: { n: { fontFamily: 'Liberation Sans', fontSize: 17.6, fill: '#222', fontWeight: 'normal' }, b: { fontFamily: 'Liberation Sans', fontSize: 17.6, fill: '#111', fontWeight: 'bold' } } }
  });
});

// heatmap frames
graphics.push({ type: 'rect', shape: { x: 1474.5, y: 61.5, width: 179, height: 887 }, style: { fill: 'none', stroke: '#111', lineWidth: 2.5 }, z: 10 });
graphics.push({ type: 'rect', shape: { x: 1409.5, y: 1109, width: 246, height: 718 }, style: { fill: 'none', stroke: '#111', lineWidth: 2.5 }, z: 10 });

// colour bar ticks and text
[1563, 1598].forEach(function (x) {
  seg(x, 965, x, 969, '#222', 1.2);
  seg(x, 987, x, 991, '#222', 1.2);
});
[1512, 1529, 1543, 1558].forEach(function (x) {
  seg(x, 1859, x, 1863, '#222', 1.2);
  seg(x, 1879, x, 1883, '#222', 1.2);
});
graphics.forEach(function (g) { if (g.type === 'line') g.z = 10; });
txt('-1', 1548, 1000, 15);
txt('0', 1577, 1000, 15);
txt('1', 1604, 1000, 15);
txt('Normalized  Changes', 1564, 1023, 19);
txt('-1', 1512, 1893, 15);
txt('0', 1539, 1893, 15);
txt('1', 1563, 1893, 15);
txt('Normalized  Changes', 1541, 1919, 17);

function legendAt(right, top, itemW, itemH, gap, font) {
  return {
    orient: 'vertical', align: 'right', right: right, top: top, height: 34 * (itemH + gap + 2), data: popNames, icon: 'rect', padding: 0,
    itemWidth: itemW, itemHeight: itemH, itemGap: gap, selectedMode: false, inactiveColor: '#ccc',
    itemStyle: { borderColor: '#333', borderWidth: 1 },
    textStyle: { fontFamily: 'Lato', fontSize: font, color: '#5a5a5a', lineHeight: itemH }
  };
}
function titleAt(text, x, y, size) {
  return { text: text, left: x, top: y - size / 2, textAlign: 'center', padding: 0, textStyle: { fontFamily: 'Liberation Sans', fontWeight: 'bold', fontSize: size, color: '#111' } };
}

const chart = echarts.init(document.getElementById('main'), null, { renderer: 'canvas' });
chart.setOption({
  animation: false,
  backgroundColor: '#fff',
  title: [
    titleAt('Baseline', 418, 328, 31),
    titleAt('Tumor Response', 886, 330, 32),
    titleAt('Baseline', 365, 1388, 28),
    titleAt('Tumor Response', 709, 1352, 28),
    titleAt('after two cycles', 699, 1387, 28),
    titleAt('Tumor Progression', 1033, 1376, 28)
  ],
  legend: [legendAt(1658 - 185, 340, 20, 12, 4.85, 12.5), legendAt(1658 - 162, 1394, 17, 11, 3.6, 11)],
  grid: grids,
  xAxis: xAxes,
  yAxis: yAxes,
  visualMap: [
    {
      type: 'continuous', seriesIndex: heatB, min: -2.75, max: 2.12, orient: 'horizontal', left: 1531, top: 965, itemWidth: 26, itemHeight: 87,
      calculable: false, hoverLink: false, padding: 0, borderColor: '#222', borderWidth: 1.5, inRange: { color: ['#d4f1fb', '#8ebcfb', '#2e72ff'] }, textStyle: { fontSize: 1, color: '#fff' }
    },
    {
      type: 'continuous', seriesIndex: heatD, min: -1, max: 1, orient: 'horizontal', left: 1498, top: 1859, itemWidth: 24, itemHeight: 77,
      calculable: false, hoverLink: false, padding: 0, borderColor: '#222', borderWidth: 1.5, inRange: { color: ['#b4cdfe', '#1e78ff'] }, textStyle: { fontSize: 1, color: '#fff' }
    }
  ],
  graphic: graphics,
  series: series
});
</script>
</body>
</html>
